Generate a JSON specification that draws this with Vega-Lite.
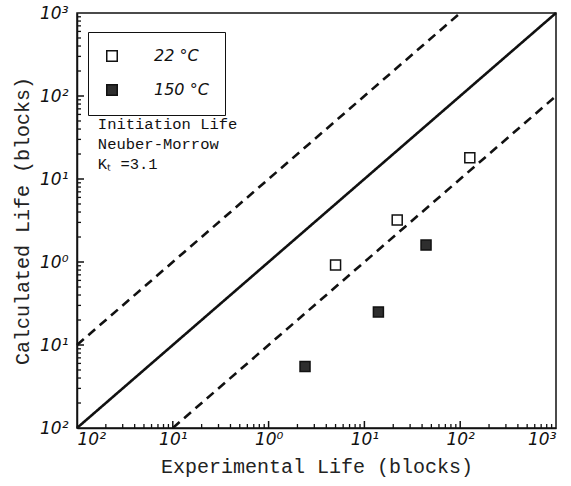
{
  "$schema": "https://vega.github.io/schema/vega-lite/v6.json",
  "width": 479,
  "height": 415,
  "autosize": {"type": "none"},
  "padding": {"left": 77, "top": 13, "right": 15, "bottom": 58},
  "background": "white",
  "config": {
    "view": {"stroke": "#111", "strokeWidth": 1.5},
    "axis": {
      "domainColor": "#111",
      "domainWidth": 1.5,
      "labelFont": "DejaVu Sans",
      "labelFontStyle": "italic",
      "labelFontSize": 17,
      "labelColor": "#111",
      "titleFont": "Liberation Mono",
      "titleFontSize": 20,
      "titleFontWeight": "normal",
      "titleColor": "#222"
    }
  },
  "datasets": {
    "lines": [
      {"line": "1:1", "style": "solid", "x": 0.01, "y": 0.01},
      {"line": "1:1", "style": "solid", "x": 1000, "y": 1000},
      {"line": "x10", "style": "dashed", "x": 0.01, "y": 0.1},
      {"line": "x10", "style": "dashed", "x": 100, "y": 1000},
      {"line": "/10", "style": "dashed", "x": 0.1, "y": 0.01},
      {"line": "/10", "style": "dashed", "x": 1000, "y": 100}
    ],
    "points": [
      {"temp": "22 °C", "exp": 5.0, "calc": 0.92},
      {"temp": "22 °C", "exp": 22, "calc": 3.2},
      {"temp": "22 °C", "exp": 126, "calc": 18},
      {"temp": "150 °C", "exp": 2.4, "calc": 0.055},
      {"temp": "150 °C", "exp": 14, "calc": 0.25},
      {"temp": "150 °C", "exp": 44, "calc": 1.6}
    ],
    "notes": [
      {"x": 0.0165, "y": 56, "text": "Initiation Life\nNeuber-Morrow\nKₜ =3.1"}
    ],
    "minorTicks": [
      {"v": 0.02}, {"v": 0.03}, {"v": 0.04}, {"v": 0.05}, {"v": 0.06}, {"v": 0.07}, {"v": 0.08}, {"v": 0.09},
      {"v": 0.2}, {"v": 0.3}, {"v": 0.4}, {"v": 0.5}, {"v": 0.6}, {"v": 0.7}, {"v": 0.8}, {"v": 0.9},
      {"v": 2}, {"v": 3}, {"v": 4}, {"v": 5}, {"v": 6}, {"v": 7}, {"v": 8}, {"v": 9},
      {"v": 20}, {"v": 30}, {"v": 40}, {"v": 50}, {"v": 60}, {"v": 70}, {"v": 80}, {"v": 90},
      {"v": 200}, {"v": 300}, {"v": 400}, {"v": 500}, {"v": 600}, {"v": 700}, {"v": 800}, {"v": 900}
    ],
    "majorTicks": [
      {"v": 0.1}, {"v": 1}, {"v": 10}, {"v": 100}
    ]
  },
  "layer": [
    {
      "data": {"name": "lines"},
      "mark": {"type": "line", "stroke": "#111", "strokeWidth": 2.6},
      "encoding": {
        "x": {
          "field": "x", "type": "quantitative",
          "scale": {"type": "log", "domain": [0.01, 1000], "nice": false},
          "axis": {
            "orient": "bottom",
            "grid": false,
            "values": [0.01, 0.1, 1, 10, 100, 1000],
            "labelExpr": "'10' + ['²','¹','⁰','¹','²','³'][round(log(datum.value)/LN10)+2]",
            "ticks": false,
            "labelPadding": 3,
            "title": "Experimental Life (blocks)",
            "titlePadding": 9
          }
        },
        "y": {
          "field": "y", "type": "quantitative",
          "scale": {"type": "log", "domain": [0.01, 1000], "nice": false},
          "axis": {
            "orient": "left",
            "grid": false,
            "values": [0.01, 0.1, 1, 10, 100, 1000],
            "labelExpr": "'10' + ['²','¹','⁰','¹','²','³'][round(log(datum.value)/LN10)+2]",
            "ticks": false,
            "labelPadding": 9,
            "title": "Calculated Life (blocks)",
            "titlePadding": 7
          }
        },
        "detail": {"field": "line"},
        "strokeDash": {
          "field": "style", "type": "nominal",
          "scale": {"domain": ["solid", "dashed"], "range": [[1, 0], [9, 6]]},
          "legend": null
        }
      }
    },
    {
      "data": {"name": "minorTicks"},
      "mark": {"type": "rule", "stroke": "#111", "strokeWidth": 1.3, "y2Offset": -4},
      "encoding": {
        "x": {"field": "v", "type": "quantitative", "axis": null},
        "y": {"datum": 0.01, "type": "quantitative", "axis": null},
        "y2": {"datum": 0.01}
      }
    },
    {
      "data": {"name": "majorTicks"},
      "mark": {"type": "rule", "stroke": "#111", "strokeWidth": 1.5, "y2Offset": -7},
      "encoding": {
        "x": {"field": "v", "type": "quantitative", "axis": null},
        "y": {"datum": 0.01, "type": "quantitative", "axis": null},
        "y2": {"datum": 0.01}
      }
    },
    {
      "data": {"name": "minorTicks"},
      "mark": {"type": "rule", "stroke": "#111", "strokeWidth": 1.3, "x2Offset": 4},
      "encoding": {
        "y": {"field": "v", "type": "quantitative", "axis": null},
        "x": {"datum": 0.01, "type": "quantitative", "axis": null},
        "x2": {"datum": 0.01}
      }
    },
    {
      "data": {"name": "majorTicks"},
      "mark": {"type": "rule", "stroke": "#111", "strokeWidth": 1.5, "x2Offset": 7},
      "encoding": {
        "y": {"field": "v", "type": "quantitative", "axis": null},
        "x": {"datum": 0.01, "type": "quantitative", "axis": null},
        "x2": {"datum": 0.01}
      }
    },
    {
      "data": {"name": "points"},
      "mark": {"type": "square", "size": 100, "stroke": "#111", "strokeWidth": 1.5, "opacity": 1},
      "encoding": {
        "x": {"field": "exp", "type": "quantitative", "axis": null},
        "y": {"field": "calc", "type": "quantitative", "axis": null},
        "fill": {
          "field": "temp", "type": "nominal",
          "scale": {"domain": ["22 °C", "150 °C"], "range": ["white", "#2e2e2e"]},
          "legend": {
            "orient": "none",
            "legendX": 11,
            "legendY": 19,
            "title": null,
            "strokeColor": "#111",
            "fillColor": "white",
            "padding": 16,
            "symbolType": "square",
            "symbolSize": 110,
            "symbolStrokeColor": "#111",
            "symbolStrokeWidth": 1.5,
            "labelFont": "DejaVu Sans",
            "labelFontStyle": "italic",
            "labelFontSize": 16,
            "labelColor": "#111",
            "labelOffset": 34,
            "rowPadding": 16,
            "labelExpr": "datum.label + '\u00a0\u00a0\u00a0'"
          }
        }
      }
    },
    {
      "data": {"name": "notes"},
      "mark": {
        "type": "text", "align": "left", "baseline": "top",
        "font": "Liberation Mono", "fontSize": 15.5, "lineHeight": 20,
        "lineBreak": "\n", "color": "#111"
      },
      "encoding": {
        "x": {"field": "x", "type": "quantitative", "axis": null},
        "y": {"field": "y", "type": "quantitative", "axis": null},
        "text": {"field": "text"}
      }
    }
  ],
  "resolve": {"axis": {"x": "independent", "y": "independent"}}
}
